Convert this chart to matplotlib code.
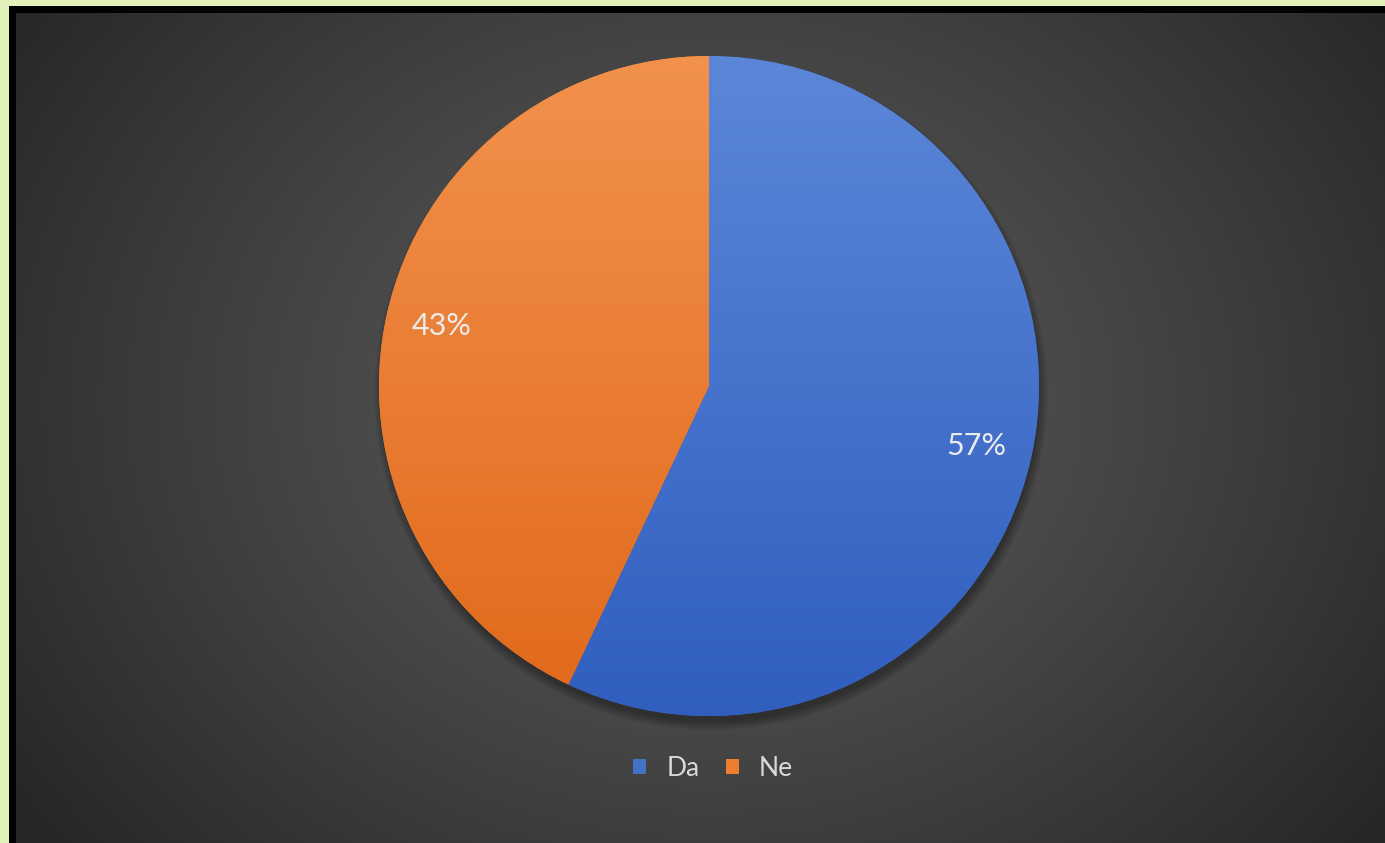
import numpy as np
import matplotlib
matplotlib.use('Agg')
import matplotlib.pyplot as plt
from matplotlib.patches import Rectangle, Circle

oznake = ['Da', 'Ne']
postotci = [57, 43]
boje = ['#4472C4', '#ED7D31']
# gornja i donja boja gradijenta za svaki isječak
boje_gore = [(0.36, 0.53, 0.85), (0.95, 0.57, 0.30)]
boje_dolje = [(0.19, 0.37, 0.75), (0.88, 0.41, 0.10)]

W, H = 1385, 843
fig = plt.figure(figsize=(W / 100, H / 100), dpi=100)
fig.patch.set_facecolor('#e2f1b9')

# crni okvir i tamna pozadina s radijalnim gradijentom
pozadina = fig.add_axes([9 / W, 0, 1 - 9 / W, 1 - 6 / H])
pozadina.set_axis_off()
pozadina.add_patch(Rectangle((0, 0), 1, 1, transform=pozadina.transAxes,
                             color='black', zorder=0))
grad_ax = fig.add_axes([16 / W, 0, 1 - 16 / W, 1 - 13 / H])
grad_ax.set_axis_off()
ny, nx = 400, 700
yy, xx = np.mgrid[0:ny, 0:nx]
cx, cy = (709 - 16) / (W - 16) * nx, (400 - 13) / (H - 13) * ny
d = np.sqrt(((xx - cx) / (nx * 0.62)) ** 2 + ((yy - cy) / (ny * 0.85)) ** 2)
d = np.clip(d, 0, 1)
svjetlina = 0.36 - 0.21 * d ** 1.2
slika = np.dstack([svjetlina] * 3)
grad_ax.imshow(slika, aspect='auto', extent=(0, 1, 0, 1), origin='upper')

# pita
ax = fig.add_axes([(379 - 16.5) / W, (127 - 16.5) / H, 693 / W, 693 / H])
ax.set_facecolor('none')

# meka sjena ispod pite (pomaknuta prema dolje)
for k in range(6):
    ax.add_patch(Circle((0.006, -0.022), 0.995 + 0.005 * k, color='black',
                        alpha=0.06, linewidth=0, zorder=1))

isjecci, tekstovi, auto = ax.pie(postotci, labels=None, colors=boje,
                                 startangle=90, counterclock=False,
                                 autopct='%1.0f%%', pctdistance=0.83,
                                 radius=1.0, wedgeprops=dict(linewidth=0),
                                 textprops=dict(color='#ececec', fontsize=22,
                                                family='Lato'))
for w in isjecci:
    w.set_zorder(2)
for t in auto:
    t.set_zorder(5)

# vertikalni gradijent unutar svakog isječka
t = np.linspace(0, 1, 256)[:, None]
for w, g, d_ in zip(isjecci, boje_gore, boje_dolje):
    g = np.array(g)
    d_ = np.array(d_)
    rgb = g[None, None, :] * (1 - t[:, :, None]) + d_[None, None, :] * t[:, :, None]
    rgb = np.repeat(rgb, 2, axis=1)
    im = ax.imshow(rgb, extent=(-1, 1, -1, 1), origin='upper', zorder=3,
                   aspect='auto', interpolation='bilinear')
    im.set_clip_path(w)

ax.set_xlim(-1.05, 1.05)
ax.set_ylim(-1.05, 1.05)
ax.set_aspect('equal')
ax.set_axis_off()

leg = fig.legend(isjecci, oznake, loc='center', bbox_to_anchor=(713 / W, 1 - 768 / H),
                 ncol=2, frameon=False, handlelength=0.5,
                 handleheight=0.5, handletextpad=0.75, columnspacing=1.0,
                 prop=dict(family='Lato', size=19))
for txt in leg.get_texts():
    txt.set_color('#d9d9d9')

fig.savefig('out.png', dpi=100, facecolor=fig.get_facecolor())
